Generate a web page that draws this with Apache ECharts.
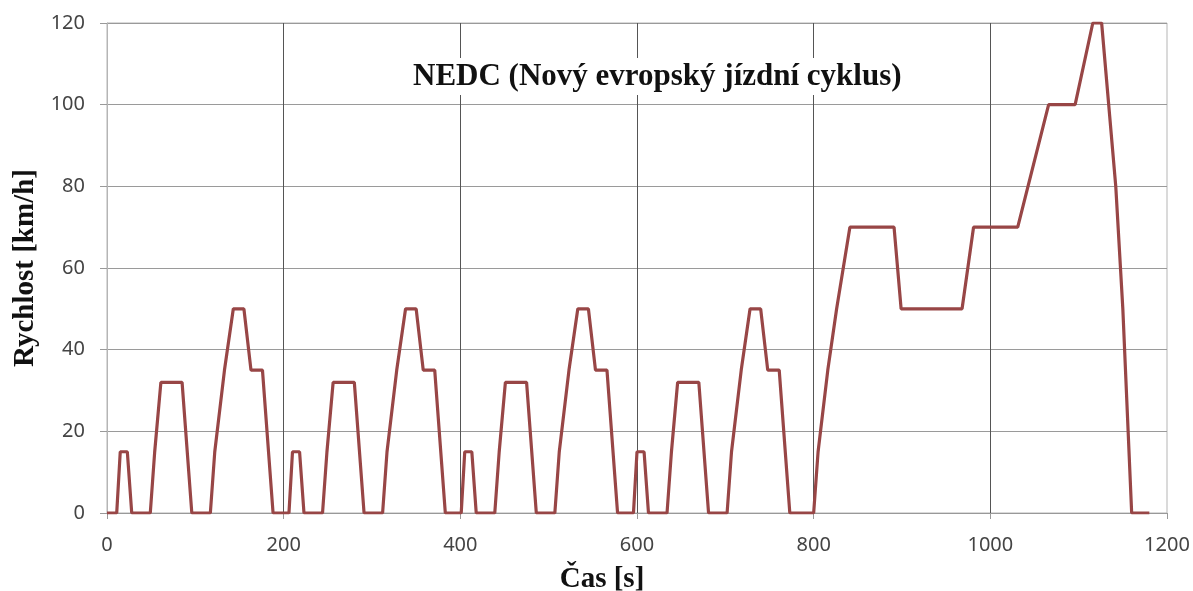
<!DOCTYPE html>
<html><head><meta charset="utf-8">
<script src="https://cdn.jsdelivr.net/npm/echarts@6/dist/echarts.min.js"></script>
<style>html,body{margin:0;padding:0;background:#fff}#c{width:1193px;height:591px}</style>
</head><body><div id="c"></div>
<script>
// NEDC cycle: time [s] and speed [km/h] breakpoints
const timeS = [
  0,11,15,23,28,49,54,56,61,85,96,117,122,124,133,135,143,155,163,176,188,
  195,206,210,218,223,244,249,251,256,280,291,312,317,319,328,330,338,350,358,371,383,
  390,401,405,413,418,439,444,446,451,475,486,507,512,514,523,525,533,545,553,566,578,
  585,596,600,608,613,634,639,641,646,670,681,702,707,709,718,720,728,740,748,761,773,
  780,800,805,807,816,818,826,828,841,891,899,968,981,1031,1066,1096,1116,1126,1142,1150,1160,1180
];
const speedKmh = [
  0,0,15,15,0,0,15,15,32,32,0,0,15,15,35,35,50,50,35,35,0,
  0,0,15,15,0,0,15,15,32,32,0,0,15,15,35,35,50,50,35,35,0,
  0,0,15,15,0,0,15,15,32,32,0,0,15,15,35,35,50,50,35,35,0,
  0,0,15,15,0,0,15,15,32,32,0,0,15,15,35,35,50,50,35,35,0,
  0,0,15,15,35,35,50,50,70,70,50,50,70,70,100,100,120,120,80,50,0,0
];
const titleText = 'NEDC (Nový evropský jízdní cyklus)';
const xAxisName = 'Čas [s]';
const yAxisName = 'Rychlost [km/h]';

const points = timeS.map((t, i) => [t, speedKmh[i]]);
const chart = echarts.init(document.getElementById('c'), null, {renderer: 'canvas'});
const labelStyle = {fontFamily: 'Noto Sans', fontSize: 20, color: '#444', formatter: v => String(v)};
chart.setOption({
  animation: false,
  backgroundColor: '#fff',
  grid: {left: 107, right: 26, top: 23, bottom: 78, containLabel: false, outerBoundsMode: 'none',
         show: true, borderColor: '#b5b5b5', borderWidth: 1},
  title: {
    text: titleText, left: 408, top: 58,
    backgroundColor: '#fff', padding: [3, 5],
    textStyle: {fontFamily: 'Liberation Serif', fontWeight: 'bold', fontSize: 31, color: '#111'}
  },
  xAxis: {
    type: 'value', min: 0, max: 1200, interval: 200,
    name: xAxisName, nameLocation: 'middle', nameGap: 52,
    nameTextStyle: {fontFamily: 'Liberation Serif', fontWeight: 'bold', fontSize: 29, color: '#111',
                    padding: [0, 70, 0, 0]},
    axisLine: {show: true, lineStyle: {color: '#999', width: 1}},
    axisTick: {show: true, length: 6, inside: false, lineStyle: {color: '#999'}},
    axisLabel: Object.assign({margin: 22}, labelStyle),
    splitLine: {show: true, showMinLine: false, showMaxLine: false, lineStyle: {color: '#555', width: 1}}
  },
  yAxis: {
    type: 'value', min: 0, max: 120, interval: 20,
    name: yAxisName, nameLocation: 'middle', nameGap: 65, nameRotate: 90,
    nameTextStyle: {fontFamily: 'Liberation Serif', fontWeight: 'bold', fontSize: 29, color: '#111'},
    axisLine: {show: true, lineStyle: {color: '#b5b5b5', width: 1}},
    axisTick: {show: true, length: 7, lineStyle: {color: '#999'}},
    axisLabel: Object.assign({margin: 22}, labelStyle),
    splitLine: {show: true, lineStyle: {color: '#9a9a9a', width: 1}}
  },
  series: [{
    type: 'line', data: points, showSymbol: false, symbol: 'none',
    lineStyle: {color: '#984646', width: 3.2}, z: 3
  }]
});
</script></body></html>
